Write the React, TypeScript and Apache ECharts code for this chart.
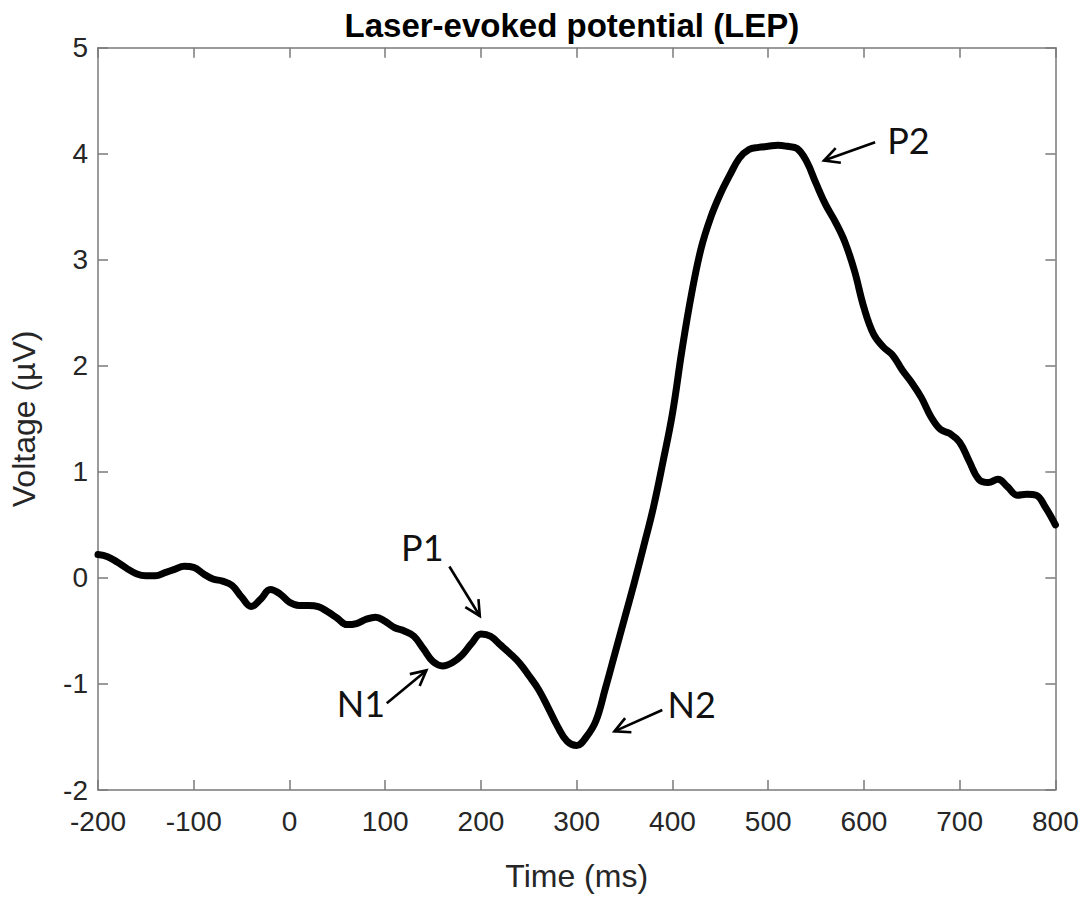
import React, { useEffect, useRef } from "react";
import * as echarts from "echarts";

// ---- Data ----
const timeMs: number[] = [
  -200, -190, -180, -170, -160, -150, -140, -130, -120, -110,
  -100, -90, -80, -70, -60, -50, -40, -30, -20, -10,
  0, 10, 20, 30, 40, 50, 60, 70, 80, 90,
  100, 110, 120, 130, 140, 150, 160, 170, 180, 190,
  200, 210, 220, 230, 240, 250, 260, 270, 280, 290,
  300, 310, 320, 330, 340, 350, 360, 370, 380, 390,
  400, 410, 420, 430, 440, 450, 460, 470, 480, 490,
  500, 510, 520, 530, 540, 550, 560, 570, 580, 590,
  600, 610, 620, 630, 640, 650, 660, 670, 680, 690,
  700, 710, 720, 730, 740, 750, 760, 770, 780, 790, 800,
];
const voltage: number[] = [
  0.22, 0.2, 0.15, 0.09, 0.04, 0.02, 0.02, 0.05, 0.08, 0.11,
  0.1, 0.04, -0.01, -0.03, -0.07, -0.18, -0.27, -0.2, -0.11, -0.15,
  -0.23, -0.26, -0.26, -0.27, -0.32, -0.38, -0.44, -0.43, -0.39, -0.37,
  -0.41, -0.47, -0.5, -0.55, -0.67, -0.79, -0.83, -0.8, -0.73, -0.62,
  -0.53, -0.55, -0.63, -0.71, -0.8, -0.92, -1.05, -1.22, -1.4, -1.54,
  -1.58, -1.5, -1.35, -1.04, -0.71, -0.38, -0.05, 0.3, 0.66, 1.09,
  1.55, 2.15, 2.68, 3.11, 3.4, 3.62, 3.8, 3.96, 4.04, 4.06,
  4.07, 4.08, 4.07, 4.05, 3.93, 3.72, 3.52, 3.36, 3.17, 2.9,
  2.55, 2.3, 2.18, 2.1, 1.96, 1.84, 1.7, 1.52, 1.4, 1.36,
  1.28, 1.1, 0.93, 0.9, 0.93, 0.86, 0.78, 0.79, 0.78, 0.66, 0.5,
];

const xTicks: number[] = [-200, -100, 0, 100, 200, 300, 400, 500, 600, 700, 800];
const yTicks: number[] = [-2, -1, 0, 1, 2, 3, 4, 5];

// Annotations (data coordinates)
const annLabels: string[] = ["P1", "N1", "N2", "P2"];
const annTextT: number[] = [138.8, 74.7, 420.1, 646.5];
const annTextV: number[] = [0.29, -1.18, -1.19, 4.125];
const arrowFromT: number[] = [167.0, 101.6, 389.4, 611.7];
const arrowFromV: number[] = [0.108, -1.183, -1.246, 4.108];
const arrowToT: number[] = [198.8, 143.0, 339.4, 558.3];
const arrowToV: number[] = [-0.359, -0.872, -1.447, 3.936];

const TITLE = "Laser-evoked potential (LEP)";
const X_NAME = "Time (ms)";
const Y_NAME = "Voltage (µV)";

const W = 1088;
const H = 897;
const GRID = { left: 88.4, right: 32.6, top: 47.7, bottom: 100 };

const AXIS_COLOR = "#7a7a7a";
const LABEL_COLOR = "#262626";
const FONT = "'Liberation Sans', Arial, Helvetica, sans-serif";
const ANN_FONT = "Lato, 'Open Sans', sans-serif";

export default function App() {
  const ref = useRef<HTMLDivElement | null>(null);

  useEffect(() => {
    document.body.style.margin = "0";
    if (!ref.current) return;
    const chart = echarts.init(ref.current, null, { renderer: "svg" });

    const lineData = timeMs.map((t, i) => [t, voltage[i]]);
    const annData = annLabels.map((_, i) => [
      arrowFromT[i], arrowFromV[i], arrowToT[i], arrowToV[i], annTextT[i], annTextV[i],
    ]);

    const xMin = xTicks[0];
    const xMax = xTicks[xTicks.length - 1];
    const yMin = yTicks[0];
    const yMax = yTicks[yTicks.length - 1];

    const commonTick = { show: true, inside: true, length: 10, lineStyle: { color: AXIS_COLOR, width: 1.5 } };
    const commonLine = { show: true, onZero: false, lineStyle: { color: AXIS_COLOR, width: 1.5 } };

    const option: any = {
      animation: false,
      backgroundColor: "#ffffff",
      grid: { ...GRID, containLabel: false },
      graphic: [
        {
          type: "text",
          x: GRID.left + (W - GRID.left - GRID.right) / 2,
          y: 25,
          style: {
            text: TITLE,
            fontSize: 33,
            fontWeight: "bold",
            fontFamily: FONT,
            fill: "#000",
            align: "center",
            verticalAlign: "middle",
          },
        },
      ],
      xAxis: [
        {
          type: "value",
          min: xMin,
          max: xMax,
          interval: 100,
          position: "bottom",
          name: X_NAME,
          nameLocation: "middle",
          nameGap: 70,
          nameTextStyle: { fontSize: 32, color: LABEL_COLOR, fontFamily: FONT },
          axisLine: commonLine,
          axisTick: commonTick,
          axisLabel: { show: true, fontSize: 28, color: LABEL_COLOR, fontFamily: FONT, margin: 17 },
          splitLine: { show: false },
        },
        {
          type: "value",
          min: xMin,
          max: xMax,
          interval: 100,
          position: "top",
          axisLine: commonLine,
          axisTick: commonTick,
          axisLabel: { show: false },
          splitLine: { show: false },
        },
      ],
      yAxis: [
        {
          type: "value",
          min: yMin,
          max: yMax,
          interval: 1,
          position: "left",
          name: Y_NAME,
          nameLocation: "middle",
          nameGap: 58,
          nameTextStyle: { fontSize: 32, color: LABEL_COLOR, fontFamily: FONT },
          axisLine: commonLine,
          axisTick: commonTick,
          axisLabel: { show: true, fontSize: 28, color: LABEL_COLOR, fontFamily: FONT, margin: 10 },
          splitLine: { show: false },
        },
        {
          type: "value",
          min: yMin,
          max: yMax,
          interval: 1,
          position: "right",
          axisLine: commonLine,
          axisTick: commonTick,
          axisLabel: { show: false },
          splitLine: { show: false },
        },
      ],
      series: [
        {
          type: "line",
          data: lineData,
          xAxisIndex: 0,
          yAxisIndex: 0,
          showSymbol: false,
          smooth: 0.4,
          lineStyle: { color: "#000", width: 7, cap: "round", join: "round" },
          clip: false,
          z: 3,
        },
        {
          type: "custom",
          coordinateSystem: "cartesian2d",
          xAxisIndex: 0,
          yAxisIndex: 0,
          data: annData,
          clip: false,
          silent: true,
          z: 4,
          renderItem: (params: any, api: any) => {
            const i = params.dataIndex;
            const from = api.coord([api.value(0), api.value(1)]);
            const to = api.coord([api.value(2), api.value(3)]);
            const tp = api.coord([api.value(4), api.value(5)]);
            const dx = to[0] - from[0];
            const dy = to[1] - from[1];
            const len = Math.sqrt(dx * dx + dy * dy) || 1;
            const ux = dx / len;
            const uy = dy / len;
            const L = 17;
            const a = (27 * Math.PI) / 180;
            const rot = (ang: number) => [
              ux * Math.cos(ang) - uy * Math.sin(ang),
              ux * Math.sin(ang) + uy * Math.cos(ang),
            ];
            const r1 = rot(a);
            const r2 = rot(-a);
            const p1 = [to[0] - L * r1[0], to[1] - L * r1[1]];
            const p2 = [to[0] - L * r2[0], to[1] - L * r2[1]];
            return {
              type: "group",
              children: [
                {
                  type: "line",
                  shape: { x1: from[0], y1: from[1], x2: to[0], y2: to[1] },
                  style: { stroke: "#000", lineWidth: 2.6 },
                },
                {
                  type: "polyline",
                  shape: { points: [p1, to, p2] },
                  style: { stroke: "#000", lineWidth: 2.6, fill: null },
                },
                {
                  type: "text",
                  x: tp[0],
                  y: tp[1],
                  style: {
                    text: annLabels[i],
                    fontSize: 36,
                    fontFamily: ANN_FONT,
                    fill: "#111",
                    align: "center",
                    verticalAlign: "middle",
                  },
                },
              ],
            };
          },
        },
      ],
    };

    chart.setOption(option);
    return () => {
      chart.dispose();
    };
  }, []);

  return <div ref={ref} style={{ width: W + "px", height: H + "px" }} />;
}
